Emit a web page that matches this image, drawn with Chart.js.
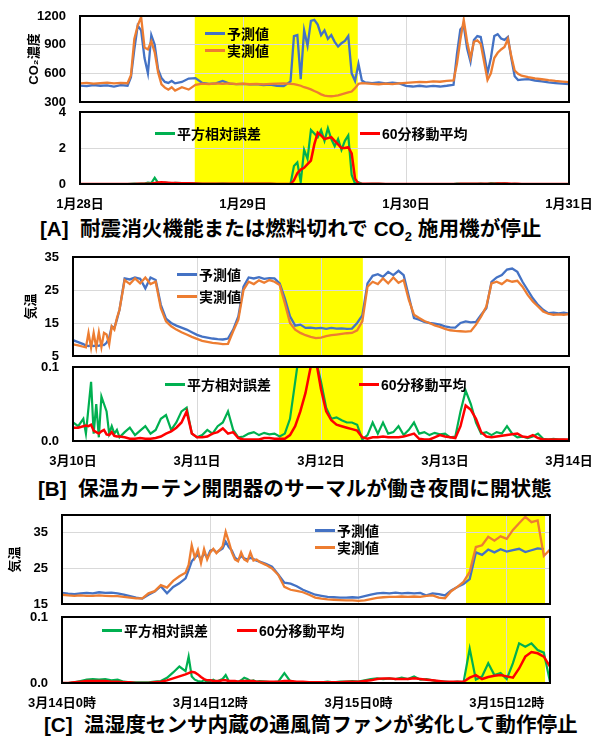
<!DOCTYPE html>
<html>
<head>
<meta charset="utf-8">
<title>異常検知の事例</title>
<script src="https://cdn.jsdelivr.net/npm/chart.js"></script>
<style>
  body { margin: 0; background: #fff; }
  #page { position: relative; width: 595px; height: 738px; overflow: hidden; background: #fff;
          font-family: "Liberation Sans", "Noto Sans CJK JP", sans-serif; font-weight: bold; color: #000; }
  canvas { position: absolute; left: 0; }
  .cap { position: absolute; font-size: 20.6px; line-height: 24px; white-space: nowrap; }
  .cap sub { font-size: 13px; line-height: 0; }
  .cap .co2 { margin: 0 6px; }
  .lg { position: absolute; height: 20px; display: flex; align-items: center; font-size: 14px; white-space: nowrap; }
  .lg i { display: inline-block; width: 20px; height: 3px; margin-right: 2px; }
</style>
</head>
<body>
<div id="page">
  <div class="cap" style="left:40px; top:217px">[A]&nbsp;&nbsp;耐震消火機能または燃料切れで<span class="co2">CO<sub>2</sub></span>施用機が停止</div>
  <div class="cap" style="left:38px; top:477px">[B]&nbsp;&nbsp;保温カーテン開閉器のサーマルが働き夜間に開状態</div>
  <div class="cap" style="left:44px; top:713px">[C]&nbsp;&nbsp;温湿度センサ内蔵の通風筒ファンが劣化して動作停止</div>
</div>

<script>
  // [A] hours from 1/28 0:00
  const aHours = [0,1,2,3,4,5,6,7,
    7.5,8,8.5,9,9.5,10,10.5,11,11.5,12,12.5,13,13.5,14,
    15,16,17,18,19,20,21,22,23,24,25,26,27,28,29,30,31,
    31.5,32,32.5,33,33.5,34,34.5,35,35.5,36,36.5,37,37.5,38,38.5,39,39.5,40,40.5,41,41.5,42,
    43,44,45,46,47,48,49,50,51,52,53,54,55,
    55.5,56,56.5,57,57.5,58,58.5,59,59.5,60,60.5,61,61.5,62,62.5,63,63.5,64,64.5,65,
    66,67,68,69,70,71,72];
  const aPred = [472,466,478,470,474,462,476,470,
    560,850,1100,1050,760,600,1000,900,640,550,510,500,520,495,
    510,545,550,500,490,495,520,492,488,490,484,488,478,482,470,466,515,
    990,1000,540,1050,890,1150,1160,1110,1000,1050,960,1000,930,880,915,940,990,600,520,700,525,505,
    498,505,496,502,494,468,462,470,460,468,462,470,480,
    800,1060,1100,860,720,950,990,980,800,600,760,990,1010,965,950,980,760,570,530,535,
    540,525,515,505,498,492,488];
  const aMeas = [495,500,492,498,502,494,500,496,
    580,960,1100,1190,870,850,935,820,610,485,450,430,455,420,
    455,430,480,492,488,495,490,494,488,492,486,490,485,490,492,495,490,
    488,480,470,455,445,432,415,400,380,366,362,360,364,370,380,390,400,410,445,490,498,495,
    490,486,492,488,494,500,505,510,508,515,512,520,525,
    700,950,1160,930,760,930,945,910,720,530,600,760,815,850,875,960,780,630,595,575,
    560,548,538,528,520,514,508];
  const aErr = [0,0,0,0,0,0,0,0,
    0.01,0.02,0.01,0.02,0.02,0.08,0.05,0.35,0.06,0.03,0.08,0.05,0.04,0.06,
    0.05,0.04,0.03,0.01,0.01,0.01,0.02,0.01,0.01,0.01,0.01,0.01,0.01,0.01,0,0,0.01,
    1.0,1.2,0.1,1.9,1.4,3.0,2.8,2.6,3.0,2.4,3.1,2.5,2.1,2.5,1.9,2.4,2.7,0.5,0.02,0.1,0.01,0,
    0.01,0.01,0,0,0,0,0,0,0,0,0,0,0,
    0.02,0.01,0.01,0.01,0.01,0.01,0.01,0.02,0.01,0.01,0.05,0.03,0.04,0.02,0.03,0.01,0,0.01,0,0,
    0,0,0,0,0,0,0];
  const aAvg = [0,0,0,0,0,0,0,0,
    0,0,0.01,0.01,0.01,0.02,0.03,0.05,0.08,0.1,0.09,0.07,0.05,0.05,
    0.04,0.04,0.03,0.02,0.01,0.01,0.01,0.01,0.01,0.01,0.01,0.01,0.01,0.01,0,0,0,
    0.2,0.6,0.8,0.9,1.1,1.3,2.2,2.85,2.7,2.5,2.55,2.6,2.4,2.2,2.0,2.0,2.05,1.7,0.3,0.02,0.01,0.01,
    0.01,0.01,0,0,0,0,0,0,0,0,0,0,0,
    0,0.01,0.01,0.01,0.01,0.01,0.01,0.01,0.01,0.01,0.02,0.02,0.03,0.03,0.03,0.03,0.02,0.01,0.01,0,
    0,0,0,0,0,0,0];
  const aDays = ['1月28日', '1月29日', '1月30日', '1月31日'];
  const aShade = [16.9, 40.9];

  // [B] hours from 3/10 0:00
  const bHours = [0,1,2,
    2.5,3,3.5,4,4.5,5,5.5,6,6.5,7,7.5,8,8.5,9,
    10,11,12,13,14,15,16,17,18,19,
    20,21,22,23,24,25,26,27,28,29,
    30,31,32,33,34,35,36,37,38,39,
    40,41,42,43,44,45,46,47,48,49,
    50,51,52,53,54,55,56,57,58,59,
    60,61,62,63,64,65,66,67,68,69,
    70,71,72,73,74,75,76,77,78,79,
    80,81,82,83,84,85,86,87,88,89,
    90,91,92,93,94,95,96];
  const bPred = [9.8,9.2,8.6,
    8.2,8.0,8.3,8.0,8.2,8.1,8.4,8.3,9.0,10.5,14,13.5,16,19,
    28.5,28.2,28.8,28.4,25.5,28.8,28.0,20.5,16.3,15,
    14.2,13.6,13,12.2,11.4,10.9,10.6,10.3,10.1,10.0,
    10.3,13,17,26,28.8,28.5,28.9,28.4,28.6,28.5,
    27,22.5,17,14.2,14.5,13.5,13.6,13.4,13.5,13.2,
    13.5,13.3,13.4,13.2,13.3,15,17.3,27,29.3,29.8,
    29,30.5,29.5,30.8,29.5,23,16.5,16,15.3,15,
    14.8,14.5,14,13.7,13.6,15,15.5,15.2,15.3,17.5,
    19.5,27.5,28.8,29.5,31.2,31.5,30.5,27.5,25,22.5,
    20.5,19,18,18.1,17.9,18.1,17.8];
  const bMeas = [8.5,8.2,7.8,
    7.6,12,7.5,12,7.6,12.2,7.7,12,11.5,8.5,14,13,16.5,19,
    28,26.8,28.5,27,28.8,26.8,27.5,19.5,15.5,14,
    13,12.2,11.5,10.8,10.2,9.6,9.3,9.0,8.8,8.6,
    8.7,12.5,16,25,27.5,26.8,27.9,27.2,28,27.5,
    26.5,21,15,13,12,11.3,10.8,10.4,10.6,11,
    11.3,11.5,11.7,11.9,12.0,12.8,15.5,26,27.5,26.8,
    28.5,27,28.8,27.2,28,22,17.5,16.5,15.6,15,
    14.3,13.8,13.2,12.8,12.6,12.5,12.4,12.5,14.5,17,
    20,27,27.5,26.8,28,27.5,27.8,26,23.5,21.5,
    20,18.5,17.8,17.5,17.6,17.5,17.7];
  const bErr = [0.025,0.02,0.03,
    0.01,0.045,0.08,0.01,0.05,0.005,0.06,0.05,0.04,0.01,0.02,0.01,0.015,0.005,
    0.012,0.018,0.008,0.014,0.02,0.01,0.015,0.03,0.035,0.015,
    0.025,0.04,0.045,0.01,0.005,0.008,0.015,0.01,0.02,0.025,
    0.04,0.015,0.005,0.006,0.01,0.012,0.008,0.011,0.009,0.01,
    0.006,0.01,0.03,0.08,0.13,0.15,0.12,0.11,0.08,0.045,
    0.03,0.032,0.028,0.025,0.025,0.022,0.002,0.008,0.025,0.01,
    0.025,0.01,0.012,0.02,0.008,0.015,0.025,0.01,0.012,0.008,
    0.011,0.009,0.01,0.005,0.006,0.04,0.068,0.05,0.025,0.01,
    0.012,0.008,0.012,0.01,0.02,0.01,0.005,0.006,0.004,0.006,
    0.01,0.003,0.002,0.003,0.002,0.002,0.001];
  const bAvg = [0.018,0.018,0.02,
    0.021,0.02,0.022,0.014,0.012,0.01,0.013,0.015,0.009,0.008,0.012,0.007,0.006,0.006,
    0.005,0.003,0.003,0.004,0.003,0.003,0.004,0.006,0.01,0.013,
    0.018,0.025,0.04,0.01,0.005,0.005,0.006,0.01,0.012,0.017,
    0.01,0.012,0.004,0.002,0.002,0.002,0.002,0.004,0.004,0.003,
    0.003,0.003,0.008,0.02,0.04,0.065,0.1,0.11,0.07,0.04,
    0.028,0.022,0.02,0.018,0.016,0.014,0.005,0.003,0.005,0.005,
    0.006,0.005,0.005,0.005,0.006,0.008,0.01,0.003,0.002,0.002,
    0.005,0.008,0.006,0.005,0.004,0.02,0.048,0.042,0.03,0.012,
    0.006,0.005,0.006,0.007,0.008,0.009,0.01,0.006,0.005,0.008,
    0.004,0.002,0.002,0.002,0.002,0.002,0.002];
  const bDays = ['3月10日', '3月11日', '3月12日', '3月13日', '3月14日'];
  const bShade = [39.9, 56.1];

  // [C] hours from 3/14 0:00
  const cHours = [0,0.5,1,1.5,2,2.5,3,3.5,4,4.5,5,5.5,6,6.5,7,7.5,8,8.5,9,9.5,10,
    10.25,10.5,10.75,11,11.25,11.5,11.75,12,12.25,12.5,12.75,13,13.25,13.5,13.75,14,14.25,14.5,14.75,15,15.25,15.5,15.75,16,
    16.5,17,17.5,18,18.5,19,19.5,20,20.5,21,
    21.5,22,22.5,23,23.5,24,24.5,25,25.5,26,
    26.5,27,27.5,28,28.5,29,29.5,30,30.5,31,
    31.5,32,32.5,33,33.5,34,34.5,35,35.5,36,
    36.5,37,37.5,38,38.5,39,39.5];
  const cPred = [18.1,17.9,17.8,18.0,18.1,18.0,18.3,18.1,18.2,18.0,17.6,17.2,16.8,16.5,17.6,18.5,20.0,18.0,19.8,20.8,22.2,
    24.5,27.0,28.0,28.8,27.5,29.3,28.0,30.0,30.3,29.5,30.0,30.6,32.5,31.0,30.0,28.0,27.3,28.5,27.8,27.5,28.0,27.6,27.2,26.9,
    26.3,25.5,23.3,21.0,20.7,20.0,19.0,18.3,17.6,17.3,
    17.0,16.9,16.8,16.8,16.9,16.8,17.2,17.6,18.0,18.1,
    18.0,18.2,18.0,18.1,18.0,18.1,17.4,18.0,17.8,17.4,
    18.8,19.8,20.6,22.0,29.5,28.8,30.3,29.5,30.4,29.7,
    30.1,30.5,29.6,30.1,30.6,30.4,null];
  const cMeas = [17.6,17.4,17.3,17.4,17.3,17.3,17.4,17.3,17.2,17.2,17.0,16.8,16.6,16.6,18.0,18.6,20.3,19.6,21.5,22.8,23.8,
    26.0,31.5,28.0,30.2,26.5,30.4,27.5,29.5,30.5,29.3,30.2,31.2,35.3,32.5,29.5,27.5,27.0,29.5,27.5,27.0,29.5,27.2,27.5,26.8,
    26.0,25.0,23.2,19.8,19.0,18.7,18.3,17.6,16.8,16.5,
    16.3,16.2,16.1,16.0,16.0,15.9,16.0,16.4,16.7,16.9,
    17.0,17.0,17.1,17.0,17.1,17.0,17.3,17.4,16.8,16.6,
    18.6,19.8,21.2,24.0,31.0,31.5,33.9,32.8,34.0,33.3,
    35.8,37.7,39.5,38.0,38.5,28.5,30.3];
  const cErr = [0,0,0.001,0.003,0.005,0.006,0.005,0.006,0.004,0.005,0.002,0.001,0.001,0.001,0.001,0.002,0.003,0.008,0.016,0.025,0.018,
    0.04,0.01,0.005,0.003,0.002,0.004,0.002,0.003,0.005,0.002,0.004,0.006,0.012,0.003,0.002,0.003,0.002,0.004,0.008,0.006,0.003,0.004,0.002,0.003,
    0.002,0.001,0.002,0.015,0.002,0.001,0.001,0.001,0.001,0.001,
    0.002,0.001,0.002,0.002,0.003,0.002,0.004,0.006,0.007,0.006,
    0.007,0.006,0.008,0.006,0.01,0.005,0.006,0.004,0.002,0.002,
    0.001,0.002,0.001,0.052,0.005,0.01,0.03,0.012,0.015,0.006,
    0.03,0.06,0.055,0.06,0.05,0.046,0.002];
  const cAvg = [0,0,0.001,0.002,0.003,0.003,0.003,0.003,0.002,0.002,0.001,0.001,0,0,0,0.001,0.002,0.004,0.007,0.01,0.013,
    0.015,0.017,0.016,0.013,0.009,0.006,0.004,0.004,0.003,0.003,0.003,0.004,0.004,0.003,0.003,0.003,0.002,0.003,0.003,0.003,0.003,0.003,0.002,0.002,
    0.002,0.002,0.002,0.003,0.003,0.002,0.002,0.001,0.001,0.001,
    0.001,0.001,0.001,0.002,0.002,0.002,0.003,0.004,0.006,0.007,
    0.007,0.006,0.006,0.006,0.007,0.006,0.005,0.004,0.003,0.002,
    0.002,0.002,0.002,0.008,0.012,0.006,0.009,0.011,0.012,0.01,
    0.008,0.022,0.04,0.047,0.045,0.04,0.025];
  const cTimes = ['3月14日0時', '3月14日12時', '3月15日0時', '3月15日12時'];
  const cShade = [32.7, 39.1];

  const lineNames = ['予測値', '実測値'];
  const errNames = ['平方相対誤差', '60分移動平均'];

  const BLUE = '#4472C4', ORANGE = '#ED7D31', GREEN = '#00B050', RED = '#FF0000';
  const GRID = '#D9D9D9', YELLOW = '#FFFF00', NONE = 'rgba(0,0,0,0)';
  const FONT = '"Liberation Sans", "Noto Sans CJK JP", sans-serif';
  const tickFont = { family: FONT, size: 13, weight: 'bold' };
  const page = document.getElementById('page');

  Chart.defaults.font.family = FONT;
  Chart.defaults.color = '#000';

  // yellow band behind the grid, black frame on top
  const panelPlugin = {
    id: 'panel',
    beforeDraw(chart, args, opt) {
      const { ctx, chartArea: a, scales: { x } } = chart;
      const x0 = x.getPixelForValue(opt.shade[0]);
      const x1 = x.getPixelForValue(opt.shade[1]);
      ctx.save();
      ctx.fillStyle = YELLOW;
      ctx.fillRect(x0, a.top, x1 - x0, a.bottom - a.top);
      ctx.restore();
    },
    afterDraw(chart) {
      const { ctx, chartArea: a } = chart;
      ctx.save();
      ctx.strokeStyle = '#000';
      ctx.lineWidth = 2;
      ctx.strokeRect(a.left, a.top, a.right - a.left, a.bottom - a.top);
      ctx.restore();
    }
  };

  function addLegend(x, y, color, text) {
    const d = document.createElement('div');
    d.className = 'lg';
    d.style.left = x + 'px';
    d.style.top = (y - 10) + 'px';
    d.innerHTML = '<i style="background:' + color + '"></i>' + text;
    page.appendChild(d);
  }

  function makeChart(o) {
    const padTop = 10;
    const xAxisH = o.xLabels ? 30 : 0;
    const padBottom = o.xLabels ? 4 : 10;
    const canvas = document.createElement('canvas');
    canvas.width = 595;
    canvas.height = padTop + (o.plotBottom - o.plotTop) + xAxisH + padBottom;
    canvas.style.top = (o.plotTop - padTop) + 'px';
    page.appendChild(canvas);

    new Chart(canvas, {
      type: 'line',
      data: {
        datasets: o.sets.map(s => ({
          label: s.label,
          data: o.hours.map((h, i) => ({ x: h, y: s.values[i] })),
          borderColor: s.color,
          borderWidth: s.width,
          pointRadius: 0,
          tension: 0,
          order: s.order
        }))
      },
      options: {
        responsive: false,
        animation: false,
        events: [],
        layout: { padding: { left: 0, right: 595 - o.right, top: padTop, bottom: padBottom } },
        plugins: {
          legend: { display: false },
          tooltip: { enabled: false },
          panel: { shade: o.shade }
        },
        scales: {
          x: {
            type: 'linear', min: 0, max: o.xMax,
            afterBuildTicks: ax => { ax.ticks = o.xTicks.map(v => ({ value: v })); },
            afterFit: ax => { ax.height = xAxisH; },
            // invisible tick marks give the gap between frame and labels
            grid: { color: GRID, drawTicks: !!o.xLabels, tickLength: 13, tickColor: NONE },
            border: { display: false },
            ticks: {
              display: !!o.xLabels, padding: 0, maxRotation: 0, autoSkip: false,
              font: tickFont, color: '#000',
              callback: (v, i) => o.xLabels ? o.xLabels[i] : ''
            }
          },
          y: {
            min: o.yMin, max: o.yMax,
            afterBuildTicks: ax => { ax.ticks = o.yTicks.map(v => ({ value: v })); },
            afterFit: ax => { ax.width = o.left; },
            grid: { color: GRID, drawTicks: true, tickLength: 14, tickColor: NONE },
            border: { display: false },
            ticks: {
              padding: 0, font: tickFont, color: '#000',
              callback: v => o.yDigits ? v.toFixed(o.yDigits) : String(v)
            },
            title: {
              display: !!o.yTitle, text: o.yTitle || '', color: '#000',
              font: { family: FONT, size: 13, weight: 'bold' },
              padding: { top: o.titlePad || 0, bottom: 0 }
            }
          }
        }
      },
      plugins: [panelPlugin]
    });

    o.sets.forEach((s, i) => addLegend(o.legendAt[i][0], o.legendAt[i][1], s.color, s.label));
  }

  function lineSets(pred, meas) {
    return [
      { label: lineNames[0], values: pred, color: BLUE, width: 2.3, order: 2 },
      { label: lineNames[1], values: meas, color: ORANGE, width: 2.3, order: 1 }
    ];
  }
  function errSets(err, avg) {
    return [
      { label: errNames[0], values: err, color: GREEN, width: 2.2, order: 2 },
      { label: errNames[1], values: avg, color: RED, width: 2.5, order: 1 }
    ];
  }

  // [A]
  makeChart({ hours: aHours, xMax: 72, xTicks: [0, 24, 48, 72], xLabels: null, shade: aShade,
    left: 80, right: 569, plotTop: 16, plotBottom: 102,
    yMin: 300, yMax: 1200, yTicks: [300, 600, 900, 1200], yTitle: 'CO₂濃度', titlePad: 27,
    sets: lineSets(aPred, aMeas), legendAt: [[205, 33], [205, 50]] });
  makeChart({ hours: aHours, xMax: 72, xTicks: [0, 24, 48, 72], xLabels: aDays, shade: aShade,
    left: 80, right: 569, plotTop: 112, plotBottom: 184,
    yMin: 0, yMax: 4, yTicks: [0, 2, 4],
    sets: errSets(aErr, aAvg), legendAt: [[155, 133], [360, 133]] });

  // [B]
  makeChart({ hours: bHours, xMax: 96, xTicks: [0, 24, 48, 72, 96], xLabels: null, shade: bShade,
    left: 73, right: 569, plotTop: 257, plotBottom: 356,
    yMin: 5, yMax: 35, yTicks: [5, 15, 25, 35], yTitle: '気温', titlePad: 24,
    sets: lineSets(bPred, bMeas), legendAt: [[177, 274], [177, 296]] });
  makeChart({ hours: bHours, xMax: 96, xTicks: [0, 24, 48, 72, 96], xLabels: bDays, shade: bShade,
    left: 73, right: 569, plotTop: 367, plotBottom: 441,
    yMin: 0, yMax: 0.1, yTicks: [0, 0.1], yDigits: 1,
    sets: errSets(bErr, bAvg), legendAt: [[165, 384], [359, 384]] });

  // [C]
  makeChart({ hours: cHours, xMax: 39.5, xTicks: [0, 12, 24, 36], xLabels: null, shade: cShade,
    left: 62, right: 550, plotTop: 515, plotBottom: 604,
    yMin: 15, yMax: 40, yTicks: [15, 25, 35], yTitle: '気温', titlePad: 8,
    sets: lineSets(cPred, cMeas), legendAt: [[315, 530], [315, 547]] });
  makeChart({ hours: cHours, xMax: 39.5, xTicks: [0, 12, 24, 36], xLabels: cTimes, shade: cShade,
    left: 62, right: 550, plotTop: 617, plotBottom: 683,
    yMin: 0, yMax: 0.1, yTicks: [0, 0.1], yDigits: 1,
    sets: errSets(cErr, cAvg), legendAt: [[102, 630], [237, 630]] });
</script>
</body>
</html>
